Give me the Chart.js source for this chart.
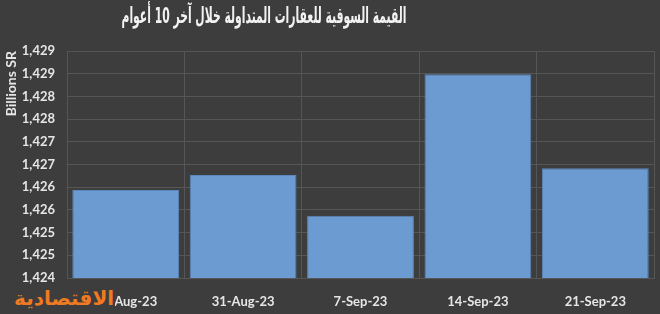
<!DOCTYPE html>
<html>
<head>
<meta charset="utf-8">
<script src="https://cdn.jsdelivr.net/npm/chart.js@4.4.0/dist/chart.umd.min.js"></script>
<style>
    html, body { margin: 0; padding: 0; background: #3d3d3d; }
    #wrap { position: relative; width: 660px; height: 314px; overflow: hidden; }
    #title {
        position: absolute; left: -136px; top: 3px; width: 800px;
        text-align: center; direction: rtl; white-space: nowrap;
        font: bold 22px "DejaVu Sans", sans-serif; color: #f2f2f2;
        transform: scaleX(0.49); transform-origin: 400px 50%;
    }
    #logo {
        position: absolute; left: 13px; top: 286px; padding: 0 1px;
        direction: rtl; background: #3d3d3d; white-space: nowrap;
        font: bold 20px "DejaVu Sans", sans-serif; color: #f07a22;
    }
</style>
</head>
<body>
<div id="wrap">
    <canvas id="chart" width="660" height="314"></canvas>
    <div id="title">القيمة السوقية للعقارات المتداولة خلال آخر 10 أعوام</div>
    <div id="logo">الاقتصادية</div>
</div>
<script>
    'use strict';

    // values (billions SR)
    const weeks = ['24-Aug-23', '31-Aug-23', '7-Sep-23', '14-Sep-23', '21-Sep-23'];
    const marketValue = [1425.94, 1426.27, 1425.37, 1428.49, 1426.42];
    const yMin = 1424;
    const yMax = 1429;
    const yStep = 0.5;

    const textColor = '#e6e6e6';
    const gridColor = '#565656';

    function fmtTick(v) {
        // Excel style: rounds 0.5 away from zero, thousands separator
        return Math.round(v).toLocaleString('en-US');
    }

    new Chart(document.getElementById('chart').getContext('2d'), {
        type: 'bar',
        data: {
            labels: weeks,
            datasets: [{
                data: marketValue,
                backgroundColor: '#6b9bd1',
                borderColor: '#5b87ba',
                borderWidth: 1,
                barPercentage: 0.91,
                categoryPercentage: 1
            }]
        },
        options: {
            responsive: false,
            animation: false,
            layout: { padding: { top: 51, right: 6, left: 0, bottom: 0 } },
            plugins: {
                legend: { display: false },
                tooltip: { enabled: false }
            },
            scales: {
                x: {
                    grid: { color: gridColor, lineWidth: 1, drawTicks: false },
                    border: { color: gridColor },
                    ticks: {
                        color: textColor,
                        padding: 16,
                        maxRotation: 0,
                        font: { family: 'Lato', size: 13, weight: 'bold' }
                    },
                    afterFit(scale) { scale.height = 36; }
                },
                y: {
                    min: yMin,
                    max: yMax,
                    grid: { color: gridColor, lineWidth: 1, drawTicks: false },
                    border: { color: gridColor },
                    ticks: {
                        stepSize: yStep,
                        color: textColor,
                        padding: 12,
                        callback: fmtTick,
                        font: { family: 'Lato', size: 13, weight: 'bold' }
                    },
                    title: {
                        display: true,
                        text: 'Billions SR',
                        align: 'end',
                        color: textColor,
                        padding: { top: 3, bottom: 0 },
                        font: { family: 'Lato', size: 14, weight: 'bold' }
                    },
                    afterFit(scale) { scale.width = 67; }
                }
            }
        }
    });
</script>
</body>
</html>
